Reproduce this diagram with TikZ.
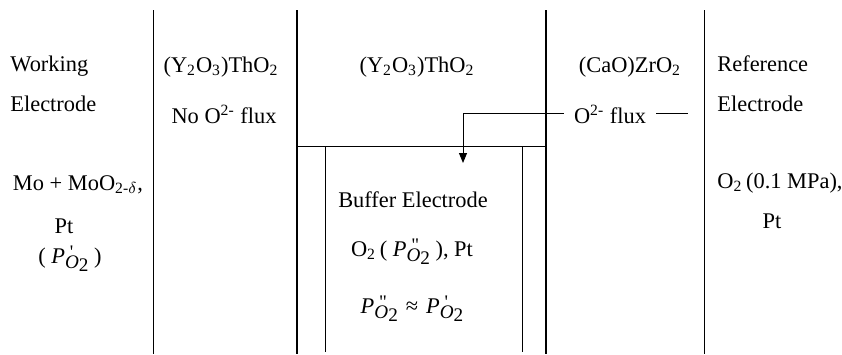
\documentclass[tikz,border=0pt]{standalone}
\usepackage{fontspec}
\setmainfont{Liberation Serif}
\newfontfamily\rawserif{Liberation Serif}
\usetikzlibrary{arrows.meta, positioning}
% partial pressure P_{O2} with a tick mark above the subscript
\newcommand{\ppart}[1]{\textit{P}\raisebox{-0.55ex}{\fontsize{9.6}{10}\selectfont\rlap{\raisebox{1.2ex}{\kern2.4pt{\rawserif #1}}}\textit{O}\raisebox{-0.35ex}{2}}}
\newcommand{\pwork}{\ppart{'}}
\newcommand{\pbuf}{\ppart{"}}
\tikzset{
    % Text inside a cell
    celltext/.style={
        font=\fontsize{11.2}{13}\selectfont,
        inner sep=0pt,
    },
    % Thin separating wall
    thinwall/.style={
        line width=0.5pt,
    },
    % Thick electrolyte wall
    thickwall/.style={
        line width=1pt,
    },
    % Oxygen ion flux arrow
    fluxarrow/.style={
        -{Triangle[length=5pt,width=4pt]},
        line width=0.5pt,
    },
}

\begin{document}
\begin{tikzpicture}[x=0.5pt, y=-0.5pt]
\useasboundingbox (0,0) rectangle (842,354);

% =========================================================================
% WALLS
% =========================================================================
\draw[thinwall]  (153,10) -- (153,354);
\draw[thickwall] (297,10) -- (297,354);
\draw[thickwall] (546,10) -- (546,354);
\draw[thinwall]  (704,10) -- (704,354);

% --- Buffer electrode compartment ---
\draw[thinwall] (297,146) -- (546,146);
\draw[thinwall] (325,146) -- (325,352);
\draw[thinwall] (522,146) -- (522,352);

% =========================================================================
% WORKING ELECTRODE (left)
% =========================================================================
\node[celltext, anchor=base west] (work1) at (10,71) {Working};
\node[celltext, anchor=base west] (work2) at (10,111) {Electrode};
\node[celltext, anchor=base] (workmat) at (78,190) {Mo + MoO\textsubscript{2-$\delta$},};
\node[celltext, anchor=base] (workpt) at (64,233) {Pt};
\node[celltext, anchor=base] (workp) at (70,263) {( \pwork\ )};

% =========================================================================
% ELECTROLYTES
% =========================================================================
\node[celltext, anchor=base] (yth1) at (221,72) {(Y\textsubscript{2}O\textsubscript{3})ThO\textsubscript{2}};
\node[celltext, anchor=base] (noflux) at (224,123) {No O\textsuperscript{2-} flux};
\node[celltext, anchor=base] (yth2) at (417,72) {(Y\textsubscript{2}O\textsubscript{3})ThO\textsubscript{2}};
\node[celltext, anchor=base] (czr) at (630,72) {(CaO)ZrO\textsubscript{2}};
\node[celltext, anchor=base, inner xsep=5pt] (flux) at (610,123) {O\textsuperscript{2-} flux};

% =========================================================================
% BUFFER ELECTRODE (middle)
% =========================================================================
\node[celltext, anchor=base] (buf1) at (413,207) {Buffer Electrode};
\node[celltext, anchor=base] (buf2) at (412,256) {O\textsubscript{2}\,( \pbuf\ ), Pt};
\node[celltext, anchor=base] (buf3) at (412,313) {\pbuf\hspace{4pt}≈\hspace{4pt}\pwork};

% =========================================================================
% REFERENCE ELECTRODE (right)
% =========================================================================
\node[celltext, anchor=base west] (ref1) at (717,71) {Reference};
\node[celltext, anchor=base west] (ref2) at (717,111) {Electrode};
\node[celltext, anchor=base west] (refgas) at (717,188) {O\textsubscript{2}\,(0.1 MPa),};
\node[celltext, anchor=base] (refpt) at (772,228) {Pt};

% =========================================================================
% FLUX ARROW
% =========================================================================
\coordinate (fluxtip) at (463,163);
\coordinate (fluxend) at (688,0);
\draw[fluxarrow] (flux.west) -| (fluxtip);
\draw[thinwall] (flux.east) -- (flux.east -| fluxend);

\end{tikzpicture}
\end{document}
